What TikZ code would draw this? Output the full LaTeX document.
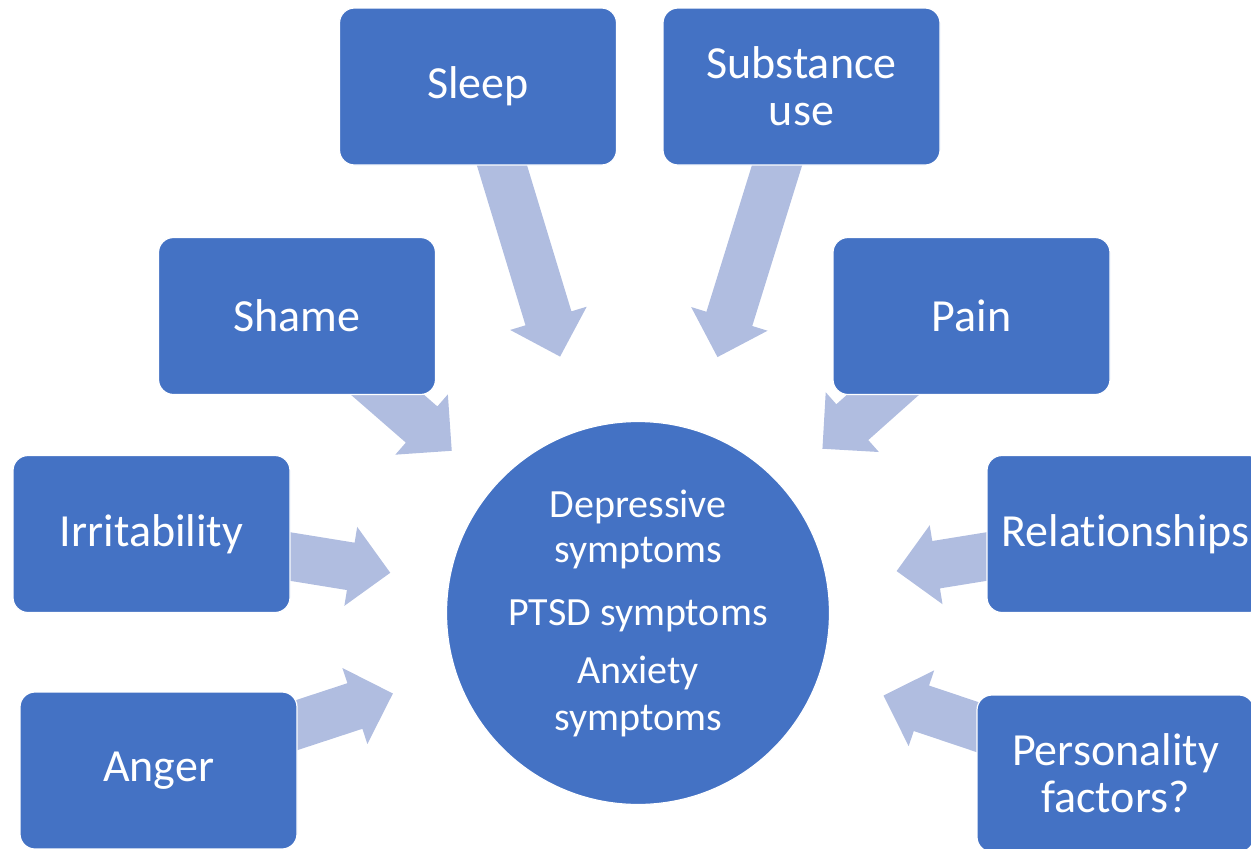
\documentclass[tikz,border=0pt]{standalone}
\usepackage{fontspec}
\setmainfont{Carlito}[Ligatures=NoCommon]
\usetikzlibrary{calc}
\definecolor{boxblue}{RGB}{68,114,196}
\definecolor{arrowblue}{RGB}{176,189,224}
\pgfdeclarelayer{bg}
\pgfsetlayers{bg,main}
\newcommand\blockarrow[2]{%
  \pgfmathsetmacro\hb{#2+40}%
  \fill[blk] ($(hub.center)!#2pt!(#1.center)$)
    -- ($(hub.center)!\hb pt!(#1.center)!40pt!90:(#1.center)$)
    -- ($(hub.center)!\hb pt!(#1.center)!24pt!90:(#1.center)$)
    -- ($(hub.center)!0.92!(#1.center)!24pt!90:(#1.center)$)
    -- ($(hub.center)!0.92!(#1.center)!24pt!-90:(#1.center)$)
    -- ($(hub.center)!\hb pt!(#1.center)!24pt!-90:(#1.center)$)
    -- ($(hub.center)!\hb pt!(#1.center)!40pt!-90:(#1.center)$) -- cycle;}
\begin{document}
\begin{tikzpicture}[x=1pt,y=-1pt,
  box/.style={rectangle, rounded corners=15pt, fill=boxblue, draw=white, line width=1.2pt,
    minimum width=277pt, minimum height=157pt, text=white,
    font=\fontsize{46}{47}\selectfont, align=center, inner sep=0pt},
  hub/.style={circle, fill=boxblue, draw=white, line width=1.2pt, minimum size=383pt,
    text=white, font=\fontsize{40}{45}\selectfont, align=center, inner sep=0pt},
  blk/.style={fill=arrowblue}]
\useasboundingbox (0,0) rectangle (1251,849);
\clip (0,0) rectangle (1251,849);
\node[hub] (hub) at (638,613) {Depressive\\symptoms\\[18pt]PTSD symptoms\\[13pt]Anxiety\\[2pt]symptoms};
\node[box] (sleep) at (478,86.5) {Sleep};
\node[box] (subst) at (801.5,86.5) {Substance\\use};
\node[box] (shame) at (297,316) {Shame};
\node[box] (pain) at (971.5,316) {Pain};
\node[box] (irrit) at (151.5,534) {Irritability};
\node[box] (relat) at (1125.5,534) {Relationships};
\node[box] (anger) at (158.5,770.5) {Anger};
\node[box] (pers) at (1115.5,773.5) {Personality\\factors?};
\begin{pgfonlayer}{bg}
\blockarrow{sleep}{268}
\blockarrow{subst}{268}
\blockarrow{shame}{247}
\blockarrow{pain}{247}
\blockarrow{irrit}{251}
\blockarrow{relat}{262}
\blockarrow{anger}{258}
\blockarrow{pers}{259}
\end{pgfonlayer}
\end{tikzpicture}
\end{document}
